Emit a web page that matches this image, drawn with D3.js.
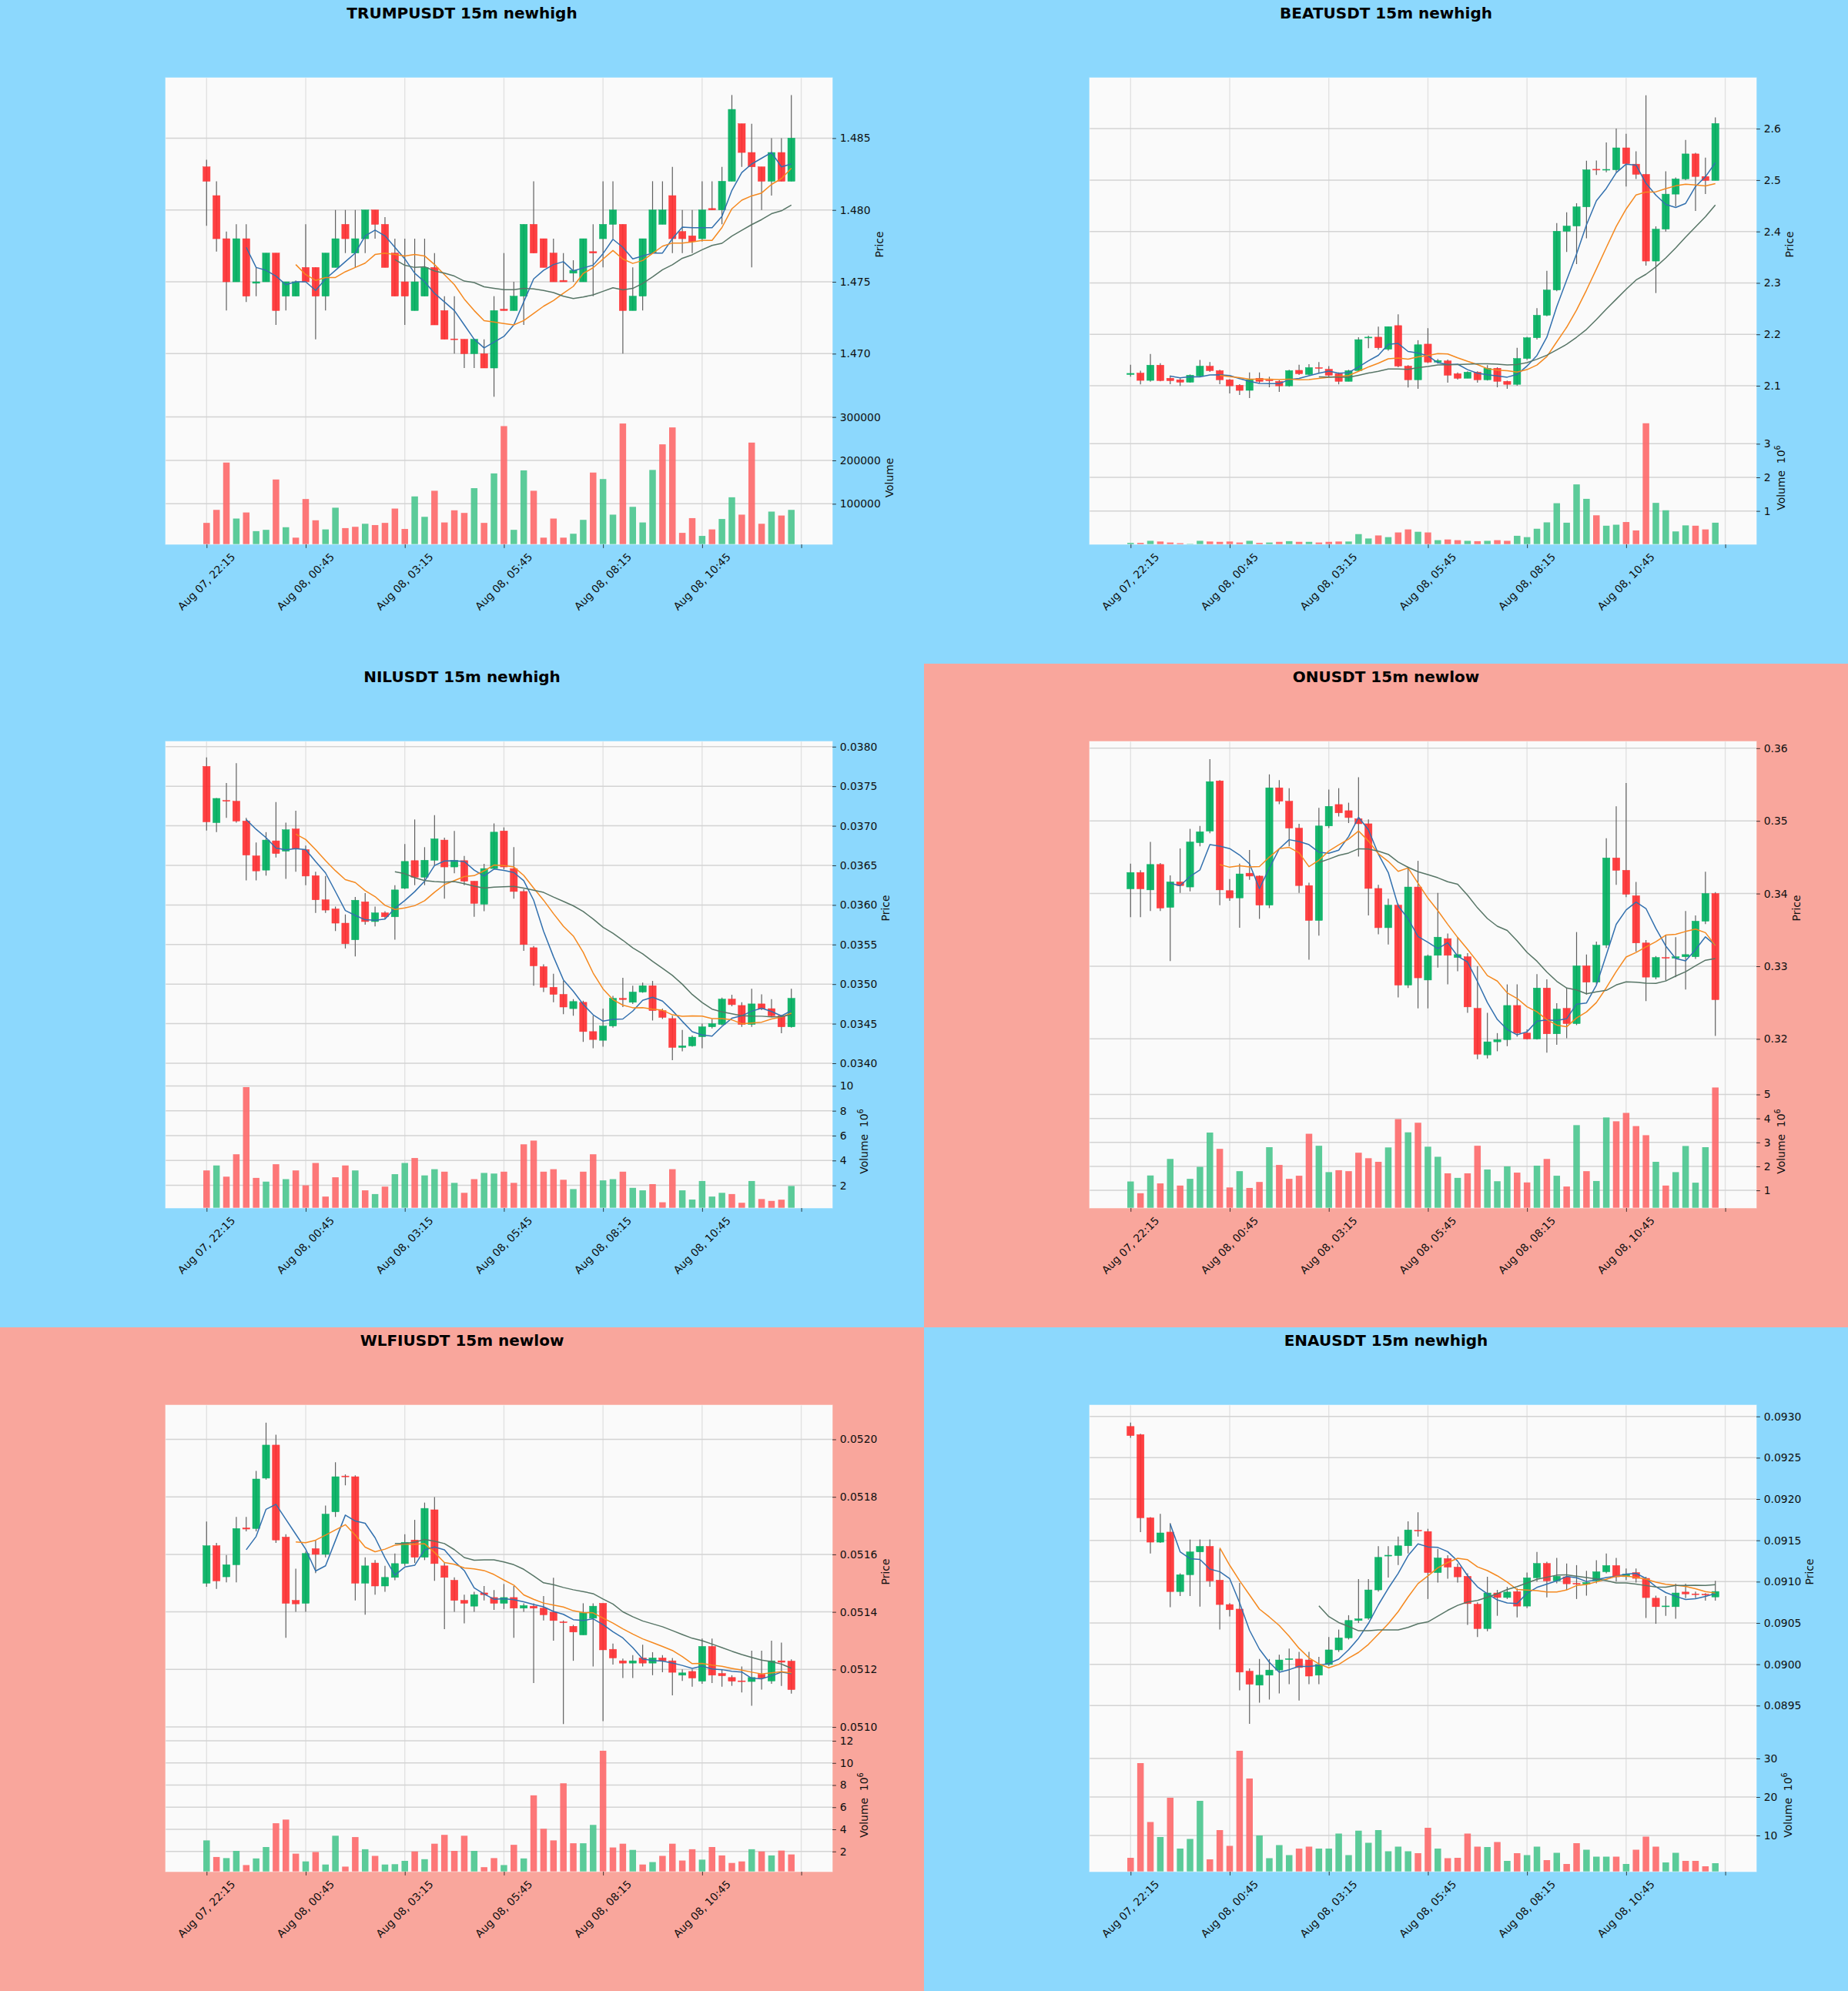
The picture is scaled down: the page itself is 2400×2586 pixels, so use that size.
<!DOCTYPE html>
<html><head><meta charset="utf-8">
<script src="https://cdn.jsdelivr.net/npm/d3@7/dist/d3.min.js"></script>
<style>html,body{margin:0;padding:0;background:#fff;}svg{display:block;}</style>
</head><body>
<svg id="chart" width="2400" height="2586" xmlns="http://www.w3.org/2000/svg"></svg>
<script>
// ---------- shared axis data ----------
const xTickIndex = [0, 10, 20, 30, 40, 50, 60];
const timeLabels = ["Aug 07, 22:15","Aug 08, 00:45","Aug 08, 03:15","Aug 08, 05:45","Aug 08, 08:15","Aug 08, 10:45",""];
const maPeriods = [5, 10, 20];

// ---------- TRUMPUSDT ----------
const trumpOpen = [1.4830,1.4810,1.4780,1.4750,1.4780,1.4749,1.4750,1.4770,1.4740,1.4740,
 1.4760,1.4760,1.4740,1.4760,1.4790,1.4770,1.4780,1.4800,1.4790,1.4770,
 1.4750,1.4730,1.4740,1.4760,1.4730,1.4710,1.4710,1.4700,1.4700,1.4690,
 1.4731,1.4730,1.4740,1.4790,1.4780,1.4770,1.4751,1.4756,1.4750,1.4771,
 1.4780,1.4790,1.4790,1.4730,1.4740,1.4770,1.4790,1.4810,1.4785,1.4782,
 1.4780,1.4801,1.4800,1.4820,1.4860,1.4840,1.4830,1.4820,1.4840,1.4820];
const trumpHigh = [1.4835,1.4820,1.4785,1.4790,1.4790,1.4760,1.4770,1.4770,1.4750,1.4751,
 1.4790,1.4760,1.4770,1.4800,1.4800,1.4800,1.4800,1.4800,1.4795,1.4780,
 1.4780,1.4780,1.4780,1.4770,1.4740,1.4740,1.4710,1.4710,1.4710,1.4740,
 1.4770,1.4750,1.4790,1.4820,1.4780,1.4780,1.4770,1.4765,1.4780,1.4790,
 1.4820,1.4820,1.4790,1.4760,1.4780,1.4820,1.4820,1.4830,1.4800,1.4800,
 1.4820,1.4820,1.4830,1.4880,1.4860,1.4860,1.4830,1.4850,1.4850,1.4880];
const trumpLow = [1.4789,1.4771,1.4730,1.4750,1.4736,1.4740,1.4750,1.4720,1.4730,1.4740,
 1.4750,1.4710,1.4730,1.4760,1.4770,1.4760,1.4770,1.4780,1.4760,1.4740,
 1.4720,1.4730,1.4740,1.4720,1.4710,1.4700,1.4690,1.4690,1.4690,1.4670,
 1.4730,1.4730,1.4720,1.4770,1.4760,1.4750,1.4750,1.4750,1.4750,1.4740,
 1.4760,1.4780,1.4700,1.4730,1.4730,1.4770,1.4790,1.4770,1.4770,1.4770,
 1.4778,1.4800,1.4790,1.4820,1.4830,1.4760,1.4800,1.4810,1.4820,1.4820];
const trumpClose = [1.4820,1.4780,1.4750,1.4780,1.4740,1.4750,1.4770,1.4730,1.4750,1.4750,
 1.4750,1.4740,1.4770,1.4780,1.4780,1.4780,1.4800,1.4790,1.4760,1.4740,
 1.4740,1.4750,1.4760,1.4720,1.4710,1.4710,1.4700,1.4710,1.4690,1.4730,
 1.4730,1.4740,1.4790,1.4770,1.4760,1.4750,1.4750,1.4758,1.4780,1.4770,
 1.4790,1.4800,1.4730,1.4740,1.4780,1.4800,1.4800,1.4780,1.4780,1.4778,
 1.4800,1.4800,1.4820,1.4870,1.4840,1.4830,1.4820,1.4840,1.4820,1.4850];
const trumpVolume = [56000,86000,195000,66000,80000,37000,40000,156000,46000,22000,
 111000,62000,41000,91000,44000,47000,54000,51000,56000,89000,
 42000,117000,70000,130000,57000,85000,79000,136000,56000,170000,
 279000,40000,177000,130000,22000,66000,22000,31000,63000,172000,
 157000,75000,285000,93000,57000,178000,237000,276000,33000,67000,
 26000,41000,65000,115000,75000,241000,54000,82000,73000,86000];
const trumpPriceTicks = [1.470, 1.475, 1.480, 1.485];
const trumpVolTicks = [100000, 200000, 300000];

// ---------- BEATUSDT ----------
const beatOpen = [2.122,2.1246,2.1104,2.140,2.1146,2.1116,2.1069,2.119,2.138,2.1294,
 2.1116,2.101,2.091,2.1146,2.1105,2.1086,2.0998,2.130,2.122,2.135,
 2.132,2.1234,2.1086,2.1294,2.193,2.1945,2.171,2.217,2.1382,2.1116,
 2.181,2.146,2.1483,2.1234,2.1146,2.1264,2.1116,2.134,2.1086,2.1027,
 2.153,2.1933,2.2371,2.2862,2.4005,2.4106,2.4479,2.5205,2.5198,2.520,
 2.5627,2.531,2.5112,2.3425,2.4046,2.4727,2.5023,2.5509,2.507,2.4994];
const beatHigh = [2.141,2.1294,2.1619,2.144,2.120,2.1146,2.122,2.150,2.146,2.131,
 2.113,2.103,2.126,2.126,2.1175,2.111,2.131,2.141,2.142,2.146,
 2.1382,2.126,2.131,2.1945,2.1975,2.215,2.215,2.239,2.140,2.1886,
 2.212,2.152,2.151,2.126,2.128,2.128,2.140,2.136,2.110,2.1738,
 2.195,2.2507,2.3235,2.4165,2.4372,2.455,2.5378,2.538,2.5734,2.600,
 2.590,2.556,2.665,2.410,2.5171,2.505,2.5781,2.553,2.5438,2.6219];
const beatLow = [2.1175,2.1027,2.108,2.1086,2.103,2.0998,2.106,2.117,2.127,2.103,
 2.085,2.082,2.076,2.105,2.097,2.088,2.098,2.121,2.121,2.124,
 2.117,2.1027,2.1086,2.128,2.173,2.170,2.168,2.136,2.0968,2.094,
 2.144,2.143,2.106,2.112,2.1146,2.106,2.110,2.097,2.094,2.100,
 2.150,2.190,2.235,2.284,2.3602,2.3366,2.3869,2.510,2.515,2.515,
 2.4875,2.502,2.3336,2.2803,2.400,2.449,2.500,2.440,2.4727,2.4994];
const beatClose = [2.124,2.1104,2.140,2.110,2.1098,2.1069,2.1205,2.1382,2.1294,2.1116,
 2.0998,2.0909,2.1116,2.1086,2.1100,2.0998,2.1294,2.1234,2.1353,2.134,
 2.1205,2.1086,2.1294,2.1897,2.1945,2.1738,2.215,2.1382,2.1116,2.1797,
 2.146,2.149,2.1205,2.1146,2.1264,2.1116,2.134,2.1086,2.1027,2.153,
 2.1933,2.2371,2.2862,2.4005,2.4106,2.4479,2.5201,2.5200,2.5203,2.5627,
 2.5319,2.5112,2.3425,2.4046,2.4727,2.5023,2.5509,2.507,2.4994,2.610];
const beatVolume = [50000,50000,110000,90000,60000,40000,20000,110000,90000,80000,
 90000,60000,110000,50000,60000,80000,100000,80000,80000,60000,
 80000,90000,90000,310000,180000,270000,220000,360000,450000,380000,
 360000,130000,150000,130000,110000,100000,110000,130000,110000,260000,
 220000,470000,660000,1230000,650000,1790000,1360000,870000,560000,590000,
 670000,420000,3610000,1240000,1020000,390000,570000,560000,450000,650000];
const beatPriceTicks = [2.1, 2.2, 2.3, 2.4, 2.5, 2.6];
const beatVolTicks = [1e6, 2e6, 3e6];

// ---------- NILUSDT ----------
const nilOpen = [0.03775,0.03704,0.03732,0.03731,0.03706,0.03662,0.03644,0.03681,0.03668,0.03696,
 0.03670,0.03637,0.036065,0.03595,0.03577,0.03556,0.03604,0.03579,0.03590,0.03585,
 0.03621,0.03656,0.03635,0.036565,0.03682,0.03648,0.03656,0.03630,0.03601,0.03646,
 0.036935,0.03646,0.03617,0.03546,0.03522,0.03496,0.03487,0.03469,0.03477,0.03440,
 0.03429,0.03447,0.03482,0.03477,0.03490,0.03498,0.034665,0.034565,0.03420,0.03422,
 0.034335,0.03446,0.03449,0.03481,0.03473,0.03449,0.03475,0.03469,0.03460,0.03446];
const nilHigh = [0.037865,0.03735,0.03754,0.03779,0.03710,0.03679,0.03692,0.03730,0.03704,0.03719,
 0.03675,0.03642,0.036365,0.03598,0.03588,0.03610,0.03615,0.03598,0.03592,0.03625,
 0.03677,0.03708,0.03673,0.037135,0.03685,0.036935,0.03662,0.03630,0.03652,0.03703,
 0.03698,0.03673,0.03620,0.03548,0.03525,0.03513,0.03504,0.03481,0.03479,0.03460,
 0.03469,0.03485,0.03508,0.03498,0.03502,0.03504,0.03469,0.03460,0.03442,0.03435,
 0.03450,0.03456,0.03483,0.034865,0.03477,0.03494,0.03487,0.03481,0.03461,0.03494];
const nilLow = [0.03694,0.03692,0.03710,0.03704,0.03631,0.03631,0.03637,0.03660,0.03633,0.03642,
 0.03625,0.03590,0.03590,0.03567,0.03545,0.03535,0.03575,0.03573,0.03582,0.03556,
 0.03620,0.03625,0.03625,0.03650,0.03608,0.03640,0.03625,0.03585,0.03592,0.03646,
 0.03645,0.03608,0.03542,0.03498,0.03490,0.03477,0.03462,0.03460,0.03427,0.03419,
 0.03421,0.03445,0.03471,0.03475,0.03489,0.03454,0.03456,0.03404,0.03415,0.03421,
 0.03419,0.03444,0.03448,0.03472,0.03446,0.03446,0.03467,0.03458,0.03438,0.03445];
const nilClose = [0.03705,0.037346,0.03731,0.03706,0.03663,0.03643,0.03682,0.03665,0.03695,0.03671,
 0.036365,0.036065,0.035935,0.03577,0.03551,0.03606,0.03579,0.03590,0.03585,0.03619,
 0.03655,0.03635,0.036565,0.036835,0.03648,0.036565,0.03630,0.03602,0.03646,0.03692,
 0.03648,0.03617,0.03550,0.03523,0.03496,0.03487,0.03471,0.03478,0.03440,0.03430,
 0.03447,0.03482,0.034805,0.03490,0.03498,0.034665,0.03458,0.03420,0.03422,0.03433,
 0.03446,0.03450,0.03481,0.03474,0.03449,0.03475,0.03469,0.03460,0.03446,0.03482];
const nilVolume = [3200000,3600000,2700000,4500000,9900000,2600000,2300000,3700000,2500000,3200000,
 2000000,3800000,1100000,2650000,3600000,3200000,1600000,1300000,1900000,2900000,
 3800000,4200000,2800000,3300000,3100000,2200000,1400000,2500000,3000000,2950000,
 3100000,2200000,5300000,5600000,3100000,3300000,2450000,1700000,3100000,4500000,
 2400000,2500000,3100000,1800000,1600000,2100000,640000,3300000,1600000,860000,
 2350000,1100000,1400000,1300000,600000,2350000,900000,750000,850000,1950000];
const nilPriceTicks = [0.0340,0.0345,0.0350,0.0355,0.0360,0.0365,0.0370,0.0375,0.0380];
const nilVolTicks = [2e6, 4e6, 6e6, 8e6, 10e6];

// ---------- ONUSDT ----------
const onOpen = [0.34065,0.3429,0.3405,0.3440,0.3381,0.3416,0.3409,0.3470,0.3486,0.3555,
 0.3404,0.3394,0.3428,0.3424,0.3384,0.35455,0.3527,0.3490,0.3411,0.3363,
 0.3493,0.35225,0.3514,0.3503,0.3496,0.3407,0.3353,0.3384,0.3274,0.3409,
 0.3281,0.3315,0.3338,0.3312,0.3313,0.3242,0.3178,0.3196,0.3199,0.3246,
 0.3208,0.3200,0.3270,0.3207,0.3242,0.3221,0.33005,0.3278,0.3329,0.3449,
 0.3432,0.3397,0.3332,0.3285,0.3312,0.3311,0.3313,0.3313,0.3362,0.3400];
const onHigh = [0.3441,0.3432,0.3471,0.3442,0.3425,0.3462,0.3489,0.3493,0.3585,0.3556,
 0.3420,0.3441,0.3460,0.3425,0.3564,0.3556,0.3545,0.3496,0.3415,0.3518,
 0.3543,0.3545,0.3525,0.3560,0.3502,0.3412,0.3393,0.3386,0.3437,0.3445,
 0.3316,0.3401,0.3345,0.3340,0.3318,0.3300,0.3236,0.3208,0.3275,0.3275,
 0.3213,0.3289,0.3282,0.3249,0.3270,0.3347,0.3316,0.3334,0.3476,0.3520,
 0.3552,0.3416,0.3336,0.3314,0.3343,0.3340,0.3376,0.3370,0.3430,0.3402];
const onLow = [0.33675,0.33675,0.3376,0.3376,0.3307,0.3401,0.3403,0.3465,0.3483,0.3384,
 0.3390,0.3353,0.3419,0.3365,0.3380,0.3523,0.3465,0.3401,0.3309,0.3342,
 0.3490,0.3506,0.3497,0.3451,0.3370,0.3344,0.3330,0.3257,0.3270,0.3242,
 0.3242,0.3298,0.3275,0.3293,0.3236,0.3172,0.3173,0.3183,0.3190,0.3203,
 0.3199,0.3199,0.3181,0.3192,0.3201,0.3219,0.3261,0.3275,0.3325,0.3412,
 0.3395,0.3320,0.3252,0.3282,0.3280,0.3285,0.3268,0.3310,0.3358,0.3204];
const onClose = [0.3429,0.34065,0.3440,0.3380,0.3416,0.3411,0.3471,0.3485,0.3554,0.3405,
 0.3394,0.3427,0.3424,0.3384,0.35455,0.3527,0.3490,0.3411,0.3363,0.3493,
 0.3520,0.3511,0.35045,0.3496,0.3407,0.3353,0.3384,0.3274,0.3409,0.3284,
 0.3314,0.3340,0.3315,0.3316,0.3244,0.3179,0.3196,0.3199,0.3246,0.3208,
 0.3200,0.3270,0.3207,0.3241,0.3221,0.33005,0.3278,0.3329,0.3449,0.3432,
 0.3399,0.3332,0.3285,0.3312,0.3311,0.3313,0.3316,0.3362,0.3400,0.3254];
const onVolume = [1370000,880000,1620000,1290000,2310000,1200000,1480000,1980000,3410000,2730000,
 1120000,1800000,1100000,1350000,2800000,2060000,1480000,1610000,3360000,2860000,
 1760000,1840000,1800000,2570000,2340000,2190000,2790000,3970000,3420000,3820000,
 2820000,2400000,1710000,1520000,1710000,2860000,1870000,1380000,2000000,1740000,
 1330000,2030000,2310000,1610000,1160000,3720000,1800000,1390000,4040000,3880000,
 4230000,3680000,3300000,2190000,1200000,1760000,2850000,1320000,2800000,5290000];
const onPriceTicks = [0.32, 0.33, 0.34, 0.35, 0.36];
const onVolTicks = [1e6, 2e6, 3e6, 4e6, 5e6];

// ---------- WLFIUSDT ----------
const wlfiOpen = [0.05150,0.05163,0.051522,0.051564,0.051692,0.05169,0.051865,0.05198,0.05166,0.05144,
 0.05143,0.05162,0.05160,0.051748,0.051872,0.05187,0.05150,0.05157,0.05149,0.05152,
 0.051568,0.05165,0.05159,0.051755,0.05156,0.05151,0.05144,0.05142,0.051466,0.05145,
 0.05143,0.05145,0.051413,0.05142,0.051413,0.051399,0.051365,0.05135,0.05132,0.051378,
 0.05143,0.05127,0.05123,0.051222,0.05124,0.051222,0.05124,0.05123,0.05118,0.051193,
 0.051159,0.05128,0.051186,0.051172,0.05116,0.051158,0.051183,0.05116,0.05123,0.051229];
const wlfiHigh = [0.051714,0.05164,0.051598,0.05173,0.05173,0.05189,0.052058,0.052016,0.05167,0.05155,
 0.05161,0.05165,0.05177,0.05192,0.051878,0.051875,0.05159,0.05158,0.05156,0.051603,
 0.05167,0.05172,0.05178,0.051799,0.05157,0.05152,0.05146,0.05147,0.05149,0.051476,
 0.051497,0.05149,0.05143,0.05143,0.051455,0.051519,0.05137,0.051355,0.05143,0.05143,
 0.05143,0.05129,0.051238,0.05125,0.051286,0.05126,0.05125,0.05124,0.05120,0.05120,
 0.051307,0.051307,0.05120,0.05118,0.05121,0.051265,0.051265,0.05130,0.051293,0.051235];
const wlfiLow = [0.051487,0.05148,0.051503,0.051503,0.05168,0.05168,0.05186,0.05164,0.05131,0.05140,
 0.05140,0.051535,0.05159,0.05173,0.05184,0.05144,0.05139,0.05146,0.05147,0.05151,
 0.05156,0.05157,0.05158,0.051508,0.05134,0.05140,0.05136,0.05140,0.05144,0.051407,
 0.05141,0.05131,0.05140,0.051153,0.05137,0.05130,0.05101,0.05123,0.05132,0.05121,
 0.05102,0.051217,0.05117,0.05117,0.05121,0.05118,0.05119,0.05111,0.05116,0.05114,
 0.05115,0.051153,0.05114,0.051143,0.05112,0.051074,0.05113,0.05115,0.051143,0.051116];
const wlfiClose = [0.05163,0.051508,0.051564,0.05169,0.051688,0.051862,0.05198,0.05165,0.05143,0.051428,
 0.051603,0.05160,0.05174,0.05187,0.05187,0.05150,0.05156,0.05149,0.05152,0.051568,
 0.051642,0.05159,0.05176,0.051568,0.05152,0.05144,0.05143,0.05146,0.05146,0.05143,
 0.05145,0.051413,0.051422,0.051413,0.05139,0.05137,0.051363,0.05133,0.051397,0.05142,
 0.051268,0.05124,0.051222,0.05123,0.051222,0.05124,0.05123,0.05119,0.051188,0.05117,
 0.05128,0.05118,0.051178,0.051159,0.051158,0.051172,0.05117,0.05123,0.051225,0.05113];
const wlfiVolume = [3000000,1500000,1400000,2050000,770000,1370000,2400000,4550000,4880000,1800000,
 1100000,1950000,820000,3420000,630000,3300000,2200000,1600000,820000,850000,
 1150000,2000000,1300000,2700000,3500000,2050000,3420000,2050000,580000,1400000,
 770000,2600000,1370000,7070000,4050000,3000000,8160000,2740000,2740000,4400000,
 11100000,2360000,2700000,2140000,820000,1040000,1600000,2700000,1180000,2200000,
 1260000,2400000,1640000,960000,1100000,2200000,2000000,1640000,2080000,1730000];
const wlfiPriceTicks = [0.0510, 0.0512, 0.0514, 0.0516, 0.0518, 0.0520];
const wlfiVolTicks = [2e6, 4e6, 6e6, 8e6, 10e6, 12e6];

// ---------- ENAUSDT ----------
const enaOpen = [0.092878,0.09278,0.091773,0.091478,0.09160,0.09088,0.091084,0.09136,0.091427,0.091018,
 0.090723,0.090668,0.089916,0.089747,0.089868,0.08993,0.09006,0.090063,0.090052,0.089868,
 0.089997,0.090174,0.09032,0.09053,0.090557,0.09090,0.09131,0.091316,0.091434,0.09162,
 0.091607,0.09111,0.09128,0.091176,0.091065,0.090727,0.090432,0.090863,0.090808,0.09088,
 0.090704,0.091047,0.09122,0.09101,0.091058,0.09098,0.09097,0.09101,0.09112,0.091195,
 0.09106,0.09111,0.09104,0.09080,0.090697,0.090697,0.090874,0.09085,0.090845,0.090815];
const enaHigh = [0.092926,0.09279,0.09178,0.09182,0.09171,0.09110,0.09151,0.09151,0.09151,0.091397,
 0.09074,0.090985,0.08995,0.090063,0.090063,0.090115,0.09019,0.09015,0.09015,0.09009,
 0.09033,0.09042,0.090594,0.09103,0.09103,0.09143,0.09143,0.091545,0.09173,0.09184,
 0.09164,0.091397,0.09132,0.09122,0.09110,0.09075,0.091058,0.09090,0.090937,0.09092,
 0.09111,0.09136,0.09124,0.091287,0.09122,0.09120,0.09113,0.09126,0.09134,0.091287,
 0.09116,0.09116,0.09106,0.09083,0.090826,0.090974,0.090974,0.09088,0.09086,0.09101];
const enaLow = [0.092742,0.09160,0.09134,0.09147,0.09069,0.090826,0.090826,0.090697,0.090937,0.09042,
 0.09058,0.089684,0.08928,0.089536,0.089573,0.089647,0.08976,0.08956,0.08976,0.08976,
 0.08998,0.09015,0.09030,0.09050,0.09054,0.09088,0.09105,0.09120,0.09134,0.091545,
 0.09079,0.09099,0.091036,0.09099,0.090476,0.09033,0.09040,0.090587,0.09079,0.090568,
 0.09068,0.09100,0.09081,0.09098,0.09090,0.09079,0.09083,0.09098,0.09110,0.09100,
 0.09102,0.09099,0.09056,0.09049,0.090587,0.09055,0.09080,0.09080,0.09077,0.09077];
const enaClose = [0.092768,0.091773,0.091478,0.09159,0.09088,0.091084,0.09136,0.091427,0.09101,0.090723,
 0.09066,0.089905,0.089758,0.089868,0.08993,0.090052,0.090065,0.08996,0.089857,0.089997,
 0.090174,0.09032,0.09053,0.09055,0.09090,0.091294,0.09132,0.091434,0.091626,0.091615,
 0.09111,0.091287,0.091176,0.091058,0.090734,0.090432,0.090863,0.090808,0.090874,0.090704,
 0.091047,0.09122,0.09101,0.091065,0.090974,0.09097,0.09099,0.09112,0.091195,0.091058,
 0.09109,0.09104,0.090807,0.090697,0.090705,0.090863,0.090852,0.090845,0.09084,0.090881];
const enaVolume = [4200000,28800000,13500000,9600000,19800000,6600000,9100000,19000000,3800000,11400000,
 7300000,32000000,24800000,10000000,4100000,7500000,4900000,6600000,7100000,6600000,
 6600000,10500000,4900000,11250000,8100000,11400000,5900000,7100000,5900000,5400000,
 12000000,6600000,4100000,4200000,10500000,7100000,7000000,8300000,3400000,5400000,
 4900000,7100000,3600000,5500000,2600000,8000000,6300000,4500000,4500000,4500000,
 2600000,6300000,9700000,7100000,3000000,5500000,3400000,3400000,2000000,2800000];
const enaPriceTicks = [0.0895,0.0900,0.0905,0.0910,0.0915,0.0920,0.0925,0.0930];
const enaVolTicks = [10e6, 20e6, 30e6];

// ---------- panel set-up ----------
const BLUE = "#8cd8fd", RED = "#f9a69c";
const panels = [
 {title:"TRUMPUSDT 15m newhigh", bg:BLUE, col:0, row:0, open:trumpOpen, high:trumpHigh, low:trumpLow, close:trumpClose, volume:trumpVolume,
  priceDomain:[1.4660,1.4892], priceTicks:trumpPriceTicks, priceFmt:".3f", volTicks:trumpVolTicks, volExp:0},
 {title:"BEATUSDT 15m newhigh", bg:BLUE, col:1, row:0, open:beatOpen, high:beatHigh, low:beatLow, close:beatClose, volume:beatVolume,
  priceDomain:[2.0506,2.6990], priceTicks:beatPriceTicks, priceFmt:".1f", volTicks:beatVolTicks, volExp:6},
 {title:"NILUSDT 15m newhigh", bg:BLUE, col:0, row:1, open:nilOpen, high:nilHigh, low:nilLow, close:nilClose, volume:nilVolume,
  priceDomain:[0.033854,0.038066], priceTicks:nilPriceTicks, priceFmt:".4f", volTicks:nilVolTicks, volExp:6},
 {title:"ONUSDT 15m newlow", bg:RED, col:1, row:1, open:onOpen, high:onHigh, low:onLow, close:onClose, volume:onVolume,
  priceDomain:[0.31506,0.36093], priceTicks:onPriceTicks, priceFmt:".2f", volTicks:onVolTicks, volExp:6},
 {title:"WLFIUSDT 15m newlow", bg:RED, col:0, row:2, open:wlfiOpen, high:wlfiHigh, low:wlfiLow, close:wlfiClose, volume:wlfiVolume,
  priceDomain:[0.050960,0.052119], priceTicks:wlfiPriceTicks, priceFmt:".4f", volTicks:wlfiVolTicks, volExp:6},
 {title:"ENAUSDT 15m newhigh", bg:BLUE, col:1, row:2, open:enaOpen, high:enaHigh, low:enaLow, close:enaClose, volume:enaVolume,
  priceDomain:[0.089102,0.093137], priceTicks:enaPriceTicks, priceFmt:".4f", volTicks:enaVolTicks, volExp:6}
];

// ---------- drawing ----------
const FONT = "DejaVu Sans, Verdana, sans-serif";
const PW = 1200, PH = 862, L = 215, R = 1081, T = 101, M = 534, B = 707;
const FS = 13.9, TICK = 4.86, PAD = 4.86, LABELPAD = 5.56;
const ASC = 0.76 * FS, DESC = 0.208 * FS;
const UP = "#00b060", DOWN = "#fe3032", VUP = "#4dc790", VDOWN = "#fd6b6c", WICK = "#606060", TXT = "#101010";
const MA_COLORS = ["#3270ae", "#f5891f", "#577566"];
const svg = d3.select("#chart");

function sma(a, n) { return a.map((v, i) => i < n - 1 ? null : d3.mean(a.slice(i - n + 1, i + 1))); }
function styleAxis(ax) {
  ax.select(".domain").remove();
  ax.attr("font-family", FONT).attr("font-size", FS);
  ax.selectAll("line").attr("stroke", TXT).attr("stroke-width", 0.8);
  ax.selectAll("text").attr("fill", TXT);
}

panels.forEach((p, pi) => {
  const n = Math.min(p.open.length, p.high.length, p.low.length, p.close.length, p.volume.length);
  const idx = d3.range(n);
  const g = svg.append("g").attr("transform", `translate(${p.col * PW},${p.row * PH})`);
  g.append("rect").attr("width", PW).attr("height", PH).attr("fill", p.bg);
  g.append("text").attr("x", PW / 2).attr("y", 24).attr("text-anchor", "middle")
    .attr("font-family", FONT).attr("font-size", 20).attr("font-weight", "bold").attr("fill", "#000").text(p.title);

  const x = d3.scaleLinear().domain([-4.14, (n - 1) + 4.14]).range([L, R]);
  const y = d3.scaleLinear().domain(p.priceDomain).range([M, T]);
  const yv = d3.scaleLinear().domain([0.3 * d3.min(p.volume), 1.1 * d3.max(p.volume)]).range([B, M]);
  const step = x(1) - x(0);
  const bw = 0.72 * step, vbw = 0.66 * step;

  g.append("rect").attr("x", L).attr("y", T).attr("width", R - L).attr("height", B - T).attr("fill", "#fafafa");
  const defs = g.append("defs");
  defs.append("clipPath").attr("id", "cp" + pi).append("rect").attr("x", L).attr("y", T).attr("width", R - L).attr("height", M - T);
  defs.append("clipPath").attr("id", "cv" + pi).append("rect").attr("x", L).attr("y", M).attr("width", R - L).attr("height", B - M);

  // grid
  const grid = g.append("g");
  grid.selectAll("line.gx").data(xTickIndex).join("line").attr("class", "gx")
    .attr("x1", d => x(d)).attr("x2", d => x(d)).attr("y1", T).attr("y2", B)
    .attr("stroke", "#e2e2e2").attr("stroke-width", 1.4);
  grid.selectAll("line.gp").data(p.priceTicks).join("line").attr("class", "gp")
    .attr("x1", L).attr("x2", R).attr("y1", d => y(d)).attr("y2", d => y(d))
    .attr("stroke", "#d3d3d3").attr("stroke-width", 1.5);
  grid.selectAll("line.gv").data(p.volTicks).join("line").attr("class", "gv")
    .attr("x1", L).attr("x2", R).attr("y1", d => yv(d)).attr("y2", d => yv(d))
    .attr("stroke", "#d3d3d3").attr("stroke-width", 1.5);

  // volume bars
  const vg = g.append("g").attr("clip-path", `url(#cv${pi})`);
  vg.selectAll("rect").data(idx).join("rect")
    .attr("x", i => x(i) - vbw / 2).attr("width", vbw)
    .attr("y", i => yv(p.volume[i])).attr("height", i => B - yv(p.volume[i]))
    .attr("fill", i => (i === 0 ? p.close[0] > p.open[0] : p.close[i] > p.close[i - 1]) ? VUP : VDOWN)
    .attr("fill-opacity", 0.92);

  // candles
  const cg = g.append("g").attr("clip-path", `url(#cp${pi})`);
  cg.selectAll("line.wick").data(idx).join("line").attr("class", "wick")
    .attr("x1", i => x(i)).attr("x2", i => x(i))
    .attr("y1", i => y(p.high[i])).attr("y2", i => y(p.low[i]))
    .attr("stroke", WICK).attr("stroke-width", 1.2);
  cg.selectAll("rect.body").data(idx).join("rect").attr("class", "body")
    .attr("x", i => x(i) - bw / 2).attr("width", bw)
    .attr("y", i => {
      const top = y(Math.max(p.open[i], p.close[i])), bot = y(Math.min(p.open[i], p.close[i]));
      return bot - top < 1 ? (top + bot) / 2 - 0.5 : top;
    })
    .attr("height", i => Math.max(1, Math.abs(y(p.open[i]) - y(p.close[i]))))
    .attr("fill", i => p.close[i] > p.open[i] ? UP : DOWN)
    .attr("stroke", i => p.close[i] > p.open[i] ? UP : DOWN).attr("stroke-width", 0.5)
    .attr("fill-opacity", 0.92);

  // moving averages
  maPeriods.forEach((per, k) => {
    const ma = sma(p.close.slice(0, n), per);
    const line = d3.line().defined(d => d != null).x((d, i) => x(i)).y(d => y(d));
    cg.append("path").datum(ma).attr("d", line).attr("fill", "none")
      .attr("stroke", MA_COLORS[k]).attr("stroke-width", 1.5).attr("stroke-linejoin", "round");
  });

  // faint spines
  g.append("rect").attr("x", L).attr("y", T).attr("width", R - L).attr("height", B - T)
    .attr("fill", "none").attr("stroke", "#ffffff").attr("stroke-opacity", 0.45).attr("stroke-width", 1.2);

  // price axis
  const ay = g.append("g").attr("transform", `translate(${R},0)`)
    .call(d3.axisRight(y).tickValues(p.priceTicks).tickFormat(d3.format(p.priceFmt)).tickSize(TICK).tickPadding(PAD));
  styleAxis(ay);
  const pw = d3.max(ay.selectAll("text").nodes(), nd => nd.getComputedTextLength());
  g.append("text").attr("transform", `translate(${R + TICK + PAD + pw + LABELPAD + ASC},${(T + M) / 2}) rotate(-90)`)
    .attr("text-anchor", "middle").attr("font-family", FONT).attr("font-size", FS).attr("fill", TXT).text("Price");

  // volume axis
  const volFmt = p.volExp ? (d => d3.format("d")(Math.round(d / Math.pow(10, p.volExp)))) : d3.format("d");
  const av = g.append("g").attr("transform", `translate(${R},0)`)
    .call(d3.axisRight(yv).tickValues(p.volTicks).tickFormat(volFmt).tickSize(TICK).tickPadding(PAD));
  styleAxis(av);
  const vw = d3.max(av.selectAll("text").nodes(), nd => nd.getComputedTextLength());
  const vt = g.append("text")
    .attr("transform", `translate(${R + TICK + PAD + vw + LABELPAD + ASC + (p.volExp ? 2 : 0)},${(M + B) / 2}) rotate(-90)`)
    .attr("text-anchor", "middle").attr("font-family", FONT).attr("font-size", FS).attr("fill", TXT);
  vt.append("tspan").text(p.volExp ? "Volume\u00a0\u00a010" : "Volume");
  if (p.volExp) vt.append("tspan").attr("font-size", FS * 0.7).attr("dy", -FS * 0.42).text(String(p.volExp));

  // x axis (bottom of volume panel)
  const ax = g.append("g").attr("transform", `translate(0,${B})`)
    .call(d3.axisBottom(x).tickValues(xTickIndex).tickFormat((d, i) => timeLabels[i]).tickSize(TICK));
  styleAxis(ax);
  ax.selectAll("text").each(function () {
    const w = this.getComputedTextLength();
    const x0 = 0.35355 * (w + ASC - DESC);
    const y0 = TICK + PAD + 0.7071 * ASC;
    d3.select(this).attr("x", 0).attr("y", 0).attr("dy", null).attr("text-anchor", "end")
      .attr("transform", `translate(${x0},${y0}) rotate(-45)`);
  });
});
</script>
</body></html>
